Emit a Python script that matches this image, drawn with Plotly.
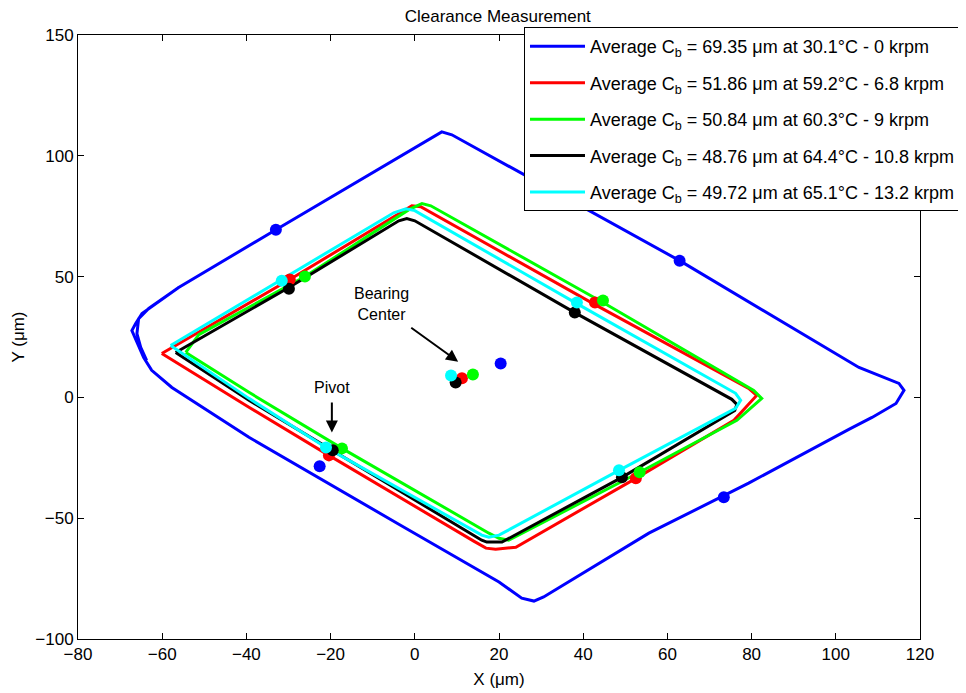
import plotly.graph_objects as go

# ---- data (µm) ----
blue_x = [-63.7, -65.1, -66.0, -65.6, -63.2, -56.1, -33.0, -13.3, 4.0, 6.4, 8.8, 34.2, 62.9, 105.5, 115.0, 116.2,
          114.3, 108.6, 103.1, 79.3, 55.6, 30.6, 28.3, 25.4, 20.0, -3.8, -39.4, -57.7, -62.5, -64.4, -66.3, -67.2,
          -66.3, -64.8, -56.1]
blue_y = [15.3, 20.7, 26.4, 32.6, 36.8, 45.5, 69.4, 89.7, 107.4, 109.9, 108.7, 84.3, 56.6, 12.4, 5.8, 2.9,
          -2.5, -8.3, -13.2, -35.5, -56.2, -82.6, -84.3, -83.1, -76.4, -52.5, -16.5, 4.1, 11.2, 16.5, 23.6, 27.7,
          30.6, 34.7, 45.5]

red_x = [-60.1, -29.7, -3.8, -0.7, 1.4, 42.8, 79.3, 81.2, 75.8, 52.5, 24.0, 19.2, 16.9, 14.0, -20.4, -39.4, -60.1]
red_y = [18.2, 48.8, 76.0, 79.3, 78.9, 38.4, 3.7, 0.8, -9.5, -33.5, -62.0, -62.8, -62.4, -59.5, -24.0, -4.1, 18.2]

green_x = [-54.4, -51.3, -26.1, -1.4, 1.7, 3.8, 44.7, 80.5, 82.4, 76.5, 53.4, 22.3, 20.0, 17.6, -17.3, -39.4, -54.4]
green_y = [18.6, 26.0, 50.0, 77.7, 80.2, 79.3, 39.3, 2.9, -0.4, -9.5, -31.0, -59.1, -58.3, -56.2, -21.1, 2.1, 18.6]

black_x = [-56.8, -29.9, -3.8, -1.9, 0.0, 38.0, 75.3, 76.5, 76.0, 49.2, 20.7, 17.1, 15.9, -19.5, -39.4, -56.8]
black_y = [18.6, 45.5, 73.1, 74.0, 73.1, 35.1, -0.8, -2.9, -5.4, -33.1, -59.9, -59.9, -59.1, -21.9, -1.2, 18.6]

cyan_x = [-58.0, -31.6, -5.0, -2.1, 0.0, 38.5, 76.2, 77.4, 76.2, 48.5, 20.0, 17.6, 15.9, -21.1, -39.4, -58.0]
cyan_y = [21.5, 48.8, 76.4, 78.1, 77.3, 38.8, 1.7, -1.2, -4.5, -30.2, -57.0, -57.9, -57.0, -20.7, -0.4, 21.5]

# pivot / contact points and bearing centre (last point of each list)
blue_dot_x = [-33.0, 62.9, 73.4, -22.6, 20.4]
blue_dot_y = [69.4, 56.6, -41.3, -28.5, 14.0]
red_dot_x = [-29.7, 42.8, 52.5, -20.4, 11.2]
red_dot_y = [48.8, 39.3, -33.5, -24.0, 7.9]
green_dot_x = [-26.1, 44.7, 53.4, -17.3, 13.8]
green_dot_y = [50.0, 40.1, -31.0, -21.1, 9.5]
black_dot_x = [-29.9, 38.0, 49.2, -19.5, 9.7]
black_dot_y = [45.0, 35.1, -33.1, -21.9, 6.2]
cyan_dot_x = [-31.6, 38.5, 48.5, -21.1, 8.6]
cyan_dot_y = [48.3, 39.3, -30.2, -20.7, 9.1]

legend_names = [
    "Average C<sub>b</sub> = 69.35 μm at 30.1°C - 0 krpm",
    "Average C<sub>b</sub> = 51.86 μm at 59.2°C - 6.8 krpm",
    "Average C<sub>b</sub> = 50.84 μm at 60.3°C - 9 krpm",
    "Average C<sub>b</sub> = 48.76 μm at 64.4°C - 10.8 krpm",
    "Average C<sub>b</sub> = 49.72 μm at 65.1°C - 13.2 krpm",
]
colors = ["#0000FF", "#FF0000", "#00FF00", "#000000", "#00FFFF"]

lines = [(blue_x, blue_y), (red_x, red_y), (green_x, green_y), (black_x, black_y), (cyan_x, cyan_y)]
dots = [(blue_dot_x, blue_dot_y), (red_dot_x, red_dot_y), (green_dot_x, green_dot_y),
        (black_dot_x, black_dot_y), (cyan_dot_x, cyan_dot_y)]

FONT = "Liberation Sans, Arial, Helvetica, sans-serif"

fig = go.Figure()
for i, ((lx, ly), name, c) in enumerate(zip(lines, legend_names, colors)):
    fig.add_trace(go.Scatter(x=lx, y=ly, mode="lines", name=name, legendgroup=f"g{i}",
                             line=dict(color=c, width=3)))
for (dx, dy), c in zip(dots, colors):
    fig.add_trace(go.Scatter(x=dx, y=dy, mode="markers", showlegend=False,
                             marker=dict(color=c, size=12, line=dict(width=0))))

# annotations
fig.add_annotation(x=-7.8, y=38.5, text="Bearing<br>Center", showarrow=False,
                   font=dict(family=FONT, size=16, color="black"))
fig.add_annotation(x=10.3, y=14.8, ax=-1.2, ay=29.3, axref="x", ayref="y", text="",
                   showarrow=True, arrowhead=2, arrowsize=1.2, arrowwidth=2, arrowcolor="black")
fig.add_annotation(x=-19.6, y=4.3, text="Pivot", showarrow=False,
                   font=dict(family=FONT, size=16, color="black"))
fig.add_annotation(x=-19.7, y=-14.5, ax=-19.7, ay=-1.5, axref="x", ayref="y", text="",
                   showarrow=True, arrowhead=2, arrowsize=1.2, arrowwidth=2, arrowcolor="black")

axis_common = dict(showgrid=False, zeroline=False, showline=True, linecolor="black", linewidth=1,
                   mirror="ticks", ticks="inside", ticklen=6, tickcolor="black",
                   tickfont=dict(family=FONT, size=17, color="black"))

fig.update_layout(
    width=966, height=693,
    margin=dict(l=70, r=54, t=27, b=62, autoexpand=False),
    paper_bgcolor="white", plot_bgcolor="white",
    title=dict(text="Clearance Measurement", x=0.507, xanchor="center", y=0.988, yanchor="middle",
               font=dict(family=FONT, size=17, color="black")),
    xaxis=dict(range=[-80, 120], dtick=20, tick0=-80,
               title=dict(text="X (μm)", standoff=9, font=dict(family=FONT, size=17, color="black")),
               **axis_common),
    yaxis=dict(range=[-100, 150], dtick=50, tick0=-100,
               title=dict(text="Y (μm)", standoff=6, font=dict(family=FONT, size=17, color="black")),
               **axis_common),
    legend=dict(x=1.0475, y=1.013, xanchor="right", yanchor="top",
                bgcolor="white", bordercolor="black", borderwidth=1,
                font=dict(family=FONT, size=18, color="black"),
                tracegroupgap=10, itemwidth=55),
    showlegend=True,
)

fig.write_html("out.html")
